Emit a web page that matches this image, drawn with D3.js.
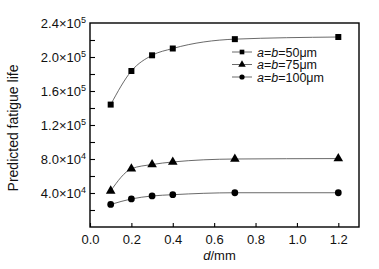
<!DOCTYPE html>
<html>
<head>
<meta charset="utf-8">
<script src="https://cdn.jsdelivr.net/npm/d3@7"></script>
<style>
  body { margin: 0; background: #fff; }
  svg { font-family: "Liberation Sans", Arial, sans-serif; }
</style>
</head>
<body>
<div id="chart"></div>
<script>
const dValues = [0.1, 0.2, 0.3, 0.4, 0.7, 1.2];
const life50 = [144000, 183500, 202000, 210000, 221000, 223500];
const life75 = [42500, 68500, 73500, 76500, 80000, 80500];
const life100 = [26500, 33000, 36500, 38000, 40300, 40300];
const seriesNames = ["a=b=50μm", "a=b=75μm", "a=b=100μm"];
const xTicks = [0.0, 0.2, 0.4, 0.6, 0.8, 1.0, 1.2];
const yTicks = [40000, 80000, 120000, 160000, 200000, 240000];

const width = 379, height = 269;
const margin = {left: 90, right: 20, top: 23, bottom: 42};

const svg = d3.select("#chart").append("svg")
    .attr("width", width)
    .attr("height", height);

const x = d3.scaleLinear()
    .domain([0, 1.3])
    .range([margin.left, width - margin.right]);

const y = d3.scaleLinear()
    .domain([0, 240000])
    .range([height - margin.bottom, margin.top]);

// frame
svg.append("rect")
    .attr("x", x(0))
    .attr("y", y(240000))
    .attr("width", x(1.3) - x(0))
    .attr("height", y(0) - y(240000))
    .attr("fill", "none")
    .attr("stroke", "#000")
    .attr("stroke-width", 1.4);

// x axis, ticks inward
const xAxis = svg.append("g")
    .attr("transform", `translate(0,${y(0)})`)
    .call(d3.axisBottom(x).tickValues(xTicks).tickSizeInner(-4).tickSizeOuter(0)
        .tickFormat(d3.format(".1f")));
xAxis.select(".domain").remove();
xAxis.selectAll(".tick line").attr("stroke-width", 1.1);
xAxis.selectAll("text")
    .attr("y", 8)
    .style("font-size", "13px")
    .style("font-family", "Liberation Sans, Arial, sans-serif")
    .attr("fill", "#111");

// y axis, ticks inward, with minor ticks
const yMinor = d3.range(20000, 240000, 20000);
const yAxis = svg.append("g")
    .attr("transform", `translate(${x(0)},0)`)
    .call(d3.axisLeft(y).tickValues(yMinor).tickSizeInner(-5).tickSizeOuter(0).tickFormat(""));
yAxis.select(".domain").remove();
yAxis.selectAll(".tick line").attr("stroke-width", 1.1);

const yLab = svg.append("g");
yTicks.forEach(v => {
    const exp = Math.floor(Math.log10(v));
    const mant = (v / Math.pow(10, exp)).toFixed(1);
    const t = yLab.append("text")
        .attr("x", x(0) - 4)
        .attr("y", y(v) + 5)
        .attr("text-anchor", "end")
        .style("font-size", "13px")
        .attr("fill", "#111");
    t.append("tspan").text(`${mant}×10`);
    t.append("tspan")
        .attr("dy", -5)
        .style("font-size", "9px")
        .text(exp);
});

// axis titles
svg.append("text")
    .attr("transform", `translate(18,${(y(0) + y(240000)) / 2 + 3}) rotate(-90)`)
    .attr("text-anchor", "middle")
    .style("font-size", "14px")
    .attr("fill", "#111")
    .text("Predicted fatigue life");

const xt = svg.append("text")
    .attr("x", (x(0) + x(1.3)) / 2 - 5)
    .attr("y", 260)
    .attr("text-anchor", "middle")
    .style("font-size", "13px")
    .attr("fill", "#111");
xt.append("tspan").style("font-style", "italic").text("d");
xt.append("tspan").text("/mm");

// series
const series = [life50, life75, life100].map((vals, i) => ({
    name: seriesNames[i],
    shape: [d3.symbolSquare, d3.symbolTriangle, d3.symbolCircle][i],
    size: [36, 40, 36][i],
    points: dValues.map((d, j) => ({d: d, v: vals[j]}))
}));

const line = d3.line()
    .x(p => x(p.d))
    .y(p => y(p.v))
    .curve(d3.curveMonotoneX);

series.forEach(s => {
    svg.append("path")
        .datum(s.points)
        .attr("d", line)
        .attr("fill", "none")
        .attr("stroke", "#444")
        .attr("stroke-width", 0.8);
    svg.selectAll(null)
        .data(s.points)
        .enter().append("path")
        .attr("transform", p => `translate(${x(p.d)},${y(p.v)})`)
        .attr("d", d3.symbol().type(s.shape).size(s.size))
        .attr("fill", "#000");
});

// legend
const legend = svg.append("g").attr("transform", "translate(232,52)");
series.forEach((s, i) => {
    const row = legend.append("g").attr("transform", `translate(0,${i * 12.5})`);
    row.append("line")
        .attr("x1", 0).attr("x2", 20)
        .attr("stroke", "#444").attr("stroke-width", 0.8);
    row.append("path")
        .attr("transform", "translate(10,0)")
        .attr("d", d3.symbol().type(s.shape).size(s.size * 0.6))
        .attr("fill", "#000");
    const t = row.append("text")
        .attr("x", 25)
        .attr("y", 4.5)
        .style("font-size", "12.5px")
        .attr("fill", "#111");
    const parts = s.name.match(/^(a)=(b)(=.*)$/);
    t.append("tspan").style("font-style", "italic").text(parts[1]);
    t.append("tspan").text("=");
    t.append("tspan").style("font-style", "italic").text(parts[2]);
    t.append("tspan").text(parts[3]);
});
</script>
</body>
</html>
